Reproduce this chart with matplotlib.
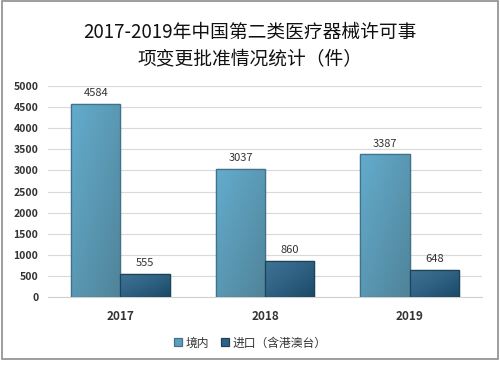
import matplotlib

matplotlib.use("Agg")
import matplotlib.pyplot as plt
import numpy as np
from matplotlib.colors import LinearSegmentedColormap
from matplotlib.patches import Rectangle

plt.rcParams["font.family"] = ["Noto Sans CJK SC", "DejaVu Sans"]

years = ["2017", "2018", "2019"]
domestic = [4584, 3037, 3387]
imported = [555, 860, 648]
series_names = ["境内", "进口（含港澳台）"]
title = "2017-2019年中国第二类医疗器械许可事\n项变更批准情况统计（件）"

fig = plt.figure(figsize=(5.0, 3.66), dpi=100)
ax = fig.add_axes([0.096, 0.188, 0.868, 0.577])

x = np.arange(len(years))
width = 0.34
b1 = ax.bar(x - width / 2, domestic, width, color="#5b9fbe", edgecolor="#41728a",
            linewidth=0.9, label=series_names[0], zorder=3)
b2 = ax.bar(x + width / 2, imported, width, color="#2e6384", edgecolor="#1d435a",
            linewidth=0.9, label=series_names[1], zorder=3)

# diagonal shading inside the bars, clipped to each bar
grad = np.add.outer(np.linspace(0, 1, 64), np.linspace(0, 1, 64)) / 2
cmaps = [
    LinearSegmentedColormap.from_list("dom", ["#63acce", "#5a98b3", "#4f8499"]),
    LinearSegmentedColormap.from_list("imp", ["#3f7496", "#2f6183", "#1b4a66"]),
]
for bars, cm in zip((b1, b2), cmaps):
    for bar in bars:
        x0, w, h = bar.get_x(), bar.get_width(), bar.get_height()
        im = ax.imshow(grad, cmap=cm, extent=(x0, x0 + w, 0, h), origin="upper",
                       aspect="auto", zorder=3.1)
        im.set_clip_path(bar)
        ax.add_patch(Rectangle((x0, 0), w, h, fill=False, edgecolor=bar.get_edgecolor(),
                               linewidth=0.9, zorder=3.2))

for bars in (b1, b2):
    for bar in bars:
        h = bar.get_height()
        ax.text(bar.get_x() + bar.get_width() / 2, h + 130, f"{int(h)}",
                ha="center", va="bottom", fontsize=8, color="#333333")

ax.set_xlim(-0.5, len(years) - 0.5)
ax.set_ylim(0, 5000)
ax.set_yticks(np.arange(0, 5001, 500))
ax.tick_params(axis="y", length=0, labelsize=7.5, pad=7)
for lbl in ax.get_yticklabels():
    lbl.set_fontweight("bold")
    lbl.set_color("#333333")
ax.set_xticks(x, labels=years)
ax.tick_params(axis="x", length=0, labelsize=8.5, pad=9)
for lbl in ax.get_xticklabels():
    lbl.set_fontweight("bold")
    lbl.set_color("#333333")

ax.grid(axis="y", color="#d9d9d9", linewidth=0.8, zorder=0)
for side in ("top", "right", "left"):
    ax.spines[side].set_visible(False)
ax.spines["bottom"].set_color("#d0d0d0")

fig.text(0.5, 0.875, title, ha="center", va="center", fontsize=13.5,
         color="#111111", linespacing=1.4)

fig.legend(loc="center", bbox_to_anchor=(0.5, 0.063), ncol=2, frameon=False,
           fontsize=8.5, handlelength=0.7, handleheight=0.7, handletextpad=0.3,
           columnspacing=1.0, labelcolor="#333333")

fig.patches.append(Rectangle((0.003, 0.018), 0.993, 0.978, transform=fig.transFigure,
                             fill=False, edgecolor="#8c8c8c", linewidth=1.2))

fig.savefig("out.png", dpi=100)
